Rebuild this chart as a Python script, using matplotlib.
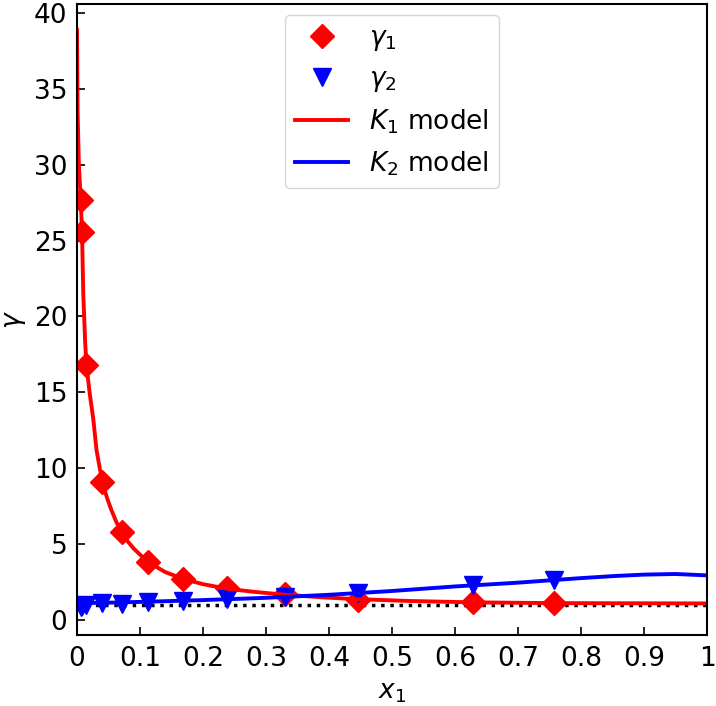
import matplotlib
matplotlib.use('Agg')
import matplotlib.pyplot as plt

# measured activity coefficients
x1 = [0.006, 0.008, 0.015, 0.040, 0.071, 0.113, 0.168, 0.238, 0.330, 0.446, 0.629, 0.757]
gamma1 = [27.7, 25.6, 16.8, 9.1, 5.8, 3.8, 2.7, 2.1, 1.7, 1.3, 1.15, 1.1]
gamma2 = [0.82, 0.9, 1.0, 1.08, 1.05, 1.15, 1.25, 1.38, 1.48, 1.8, 2.3, 2.62]

# model curves
k1_x = [0, 0.001, 0.003, 0.006, 0.008, 0.010, 0.013, 0.015, 0.02, 0.026, 0.031, 0.04,
        0.048, 0.055, 0.063, 0.071, 0.08, 0.09, 0.1, 0.113, 0.14, 0.168, 0.2, 0.238,
        0.28, 0.33, 0.39, 0.446, 0.53, 0.629, 0.757, 0.88, 1.0]
k1_y = [38.9, 33.5, 30.0, 27.7, 25.6, 21.5, 18.3, 16.8, 15.0, 13.2, 11.2, 9.1,
        8.0, 7.2, 6.4, 5.8, 5.2, 4.7, 4.3, 3.8, 3.15, 2.7, 2.35, 2.05,
        1.85, 1.65, 1.48, 1.36, 1.24, 1.15, 1.1, 1.09, 1.08]
k2_x = [0, 0.05, 0.1, 0.2, 0.3, 0.4, 0.5, 0.6, 0.7, 0.8, 0.85, 0.9, 0.95, 1.0]
k2_y = [1.1, 1.13, 1.18, 1.3, 1.45, 1.65, 1.9, 2.2, 2.45, 2.75, 2.88, 2.98, 3.02, 2.93]

ideal_x = [0, 1]
ideal_y = [1, 1]

plt.rcParams['font.size'] = 19

fig = plt.figure(figsize=(7.16, 7.06), dpi=100)
ax = fig.add_axes([0.1075, 0.1006, 0.88, 0.8937])

ax.plot(ideal_x, ideal_y, ':', color='black', lw=2.5)
ax.plot(x1, gamma1, 'D', color='red', ms=12, label=r'$\gamma_1$')
ax.plot(x1, gamma2, 'v', color='blue', ms=13, label=r'$\gamma_2$')
ax.plot(k1_x, k1_y, '-', color='red', lw=2.8, label=r'$K_1$ model')
ax.plot(k2_x, k2_y, '-', color='blue', lw=2.8, label=r'$K_2$ model')

ax.set_xlim(0, 1)
ax.set_ylim(-1, 40.6)
ax.set_xticks([0, 0.1, 0.2, 0.3, 0.4, 0.5, 0.6, 0.7, 0.8, 0.9, 1])
ax.set_xticklabels(['0', '0.1', '0.2', '0.3', '0.4', '0.5', '0.6', '0.7', '0.8', '0.9', '1'])
ax.set_yticks(range(0, 41, 5))
ax.tick_params(direction='in', length=6, width=1.2)
ax.tick_params(axis='x', pad=8)
ax.tick_params(axis='y', pad=7)
for s in ax.spines.values():
    s.set_linewidth(1.5)

ax.set_xlabel(r'$x_1$', labelpad=5)
ax.set_ylabel(r'$\gamma$', labelpad=4)
ax.legend(loc='upper center', numpoints=1, borderaxespad=0.4)

plt.savefig('out.png', dpi=100)
